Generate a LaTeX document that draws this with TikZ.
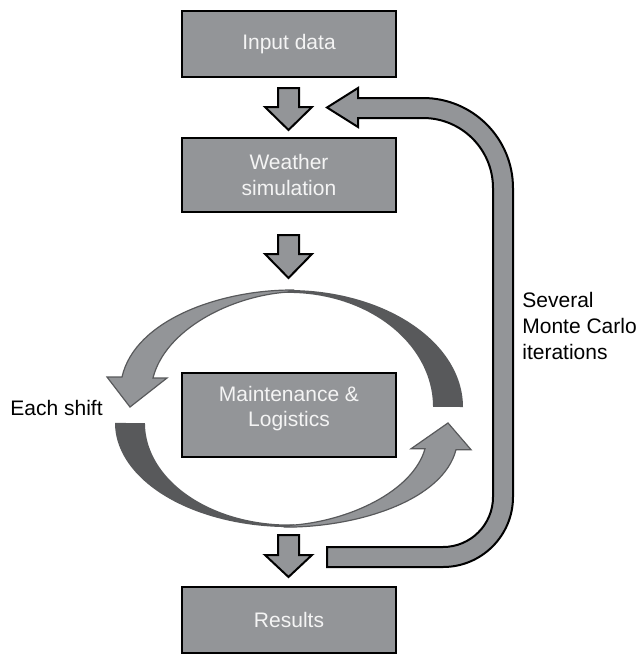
\documentclass[tikz,border=0pt]{standalone}
\usepackage{fontspec}
\setmainfont{Liberation Sans}
\definecolor{boxgray}{HTML}{939598}
\definecolor{darkgray2}{HTML}{58595B}
\definecolor{txtwhite}{HTML}{F4F4F4}
\newcommand\mycyclearrow{%
  \fill[crescent] (463,407) arc[start angle=0, end angle=-92, x radius=174, y radius=117]
    -- (284,293) arc[start angle=-92, end angle=0, x radius=144, y radius=114] -- cycle;
  \filldraw[lightarrow] (292,290) .. controls (220,290) and (135,320) .. (122,377)
    -- (107,377) -- (130,407) -- (167,378) -- (153,378)
    .. controls (165,330) and (230,296) .. (288,292) -- cycle;
}
\begin{document}
\begin{tikzpicture}[x=0.5pt,y=-0.5pt,
  box/.style={draw=black, line width=1pt, fill=boxgray, text=txtwhite, minimum width=107pt, minimum height=33pt, align=center, font=\fontsize{10.5}{12.6}\selectfont, inner sep=0pt},
  boxtext/.style={text=txtwhite, align=center, font=\fontsize{10.5}{12.6}\selectfont, inner sep=0pt},
  blockarrow/.style={draw=black, line width=1pt, fill=boxgray, line join=miter},
  sidelabel/.style={font=\fontsize{10.5}{13}\selectfont, align=left, inner sep=0pt},
  crescent/.style={fill=darkgray2},
  lightarrow/.style={fill=boxgray, draw=darkgray2, line width=0.6pt, line join=miter}]
\useasboundingbox (0,0) rectangle (640,654);

% boxes
\node[box] (input) at (289,44) {Input data};
\node[box, minimum height=37pt] (weather) at (289,175) {Weather\\simulation};
\node[box, minimum height=42pt] (mnt) at (289,415) {};
\node[boxtext, anchor=north] (mnttext) at (289,386) {Maintenance \&\\Logistics};
\node[box, minimum height=33pt] (results) at (289,619.5) {};
\node[boxtext] (resultstext) at (results.center) {Results};

% block arrows down
\draw[blockarrow] (278,88) -- (299,88) -- (299,107) -- (312,107) -- (288.5,130) -- (265,107) -- (278,107) -- cycle;
\draw[blockarrow] (278,235) -- (299,235) -- (299,254) -- (312,254) -- (288.5,278) -- (265,254) -- (278,254) -- cycle;
\draw[blockarrow] (278,535) -- (299,535) -- (299,555) -- (312,555) -- (288.5,577) -- (265,555) -- (278,555) -- cycle;

% return arrow
\draw[blockarrow] (327,547) -- (443,547) arc[start angle=90, end angle=0, radius=50]
  -- (493,188) arc[start angle=0, end angle=-90, radius=70]
  -- (358,118) -- (358,127) -- (327,107.5) -- (358,88) -- (358,98)
  -- (423,98) arc[start angle=-90, end angle=0, radius=90]
  -- (513,497) arc[start angle=0, end angle=90, radius=70]
  -- (327,567) -- cycle;

% cycle arrows
\mycyclearrow
\begin{scope}[shift={(578,785.2)}, xscale=-1, yscale=-0.89]
\mycyclearrow
\end{scope}

% labels
\node[sidelabel, anchor=base west] (each) at (10,415) {Each shift};
\node[sidelabel, anchor=north west] (several) at (522,292) {Several\\Monte Carlo\\iterations};
\end{tikzpicture}
\end{document}
